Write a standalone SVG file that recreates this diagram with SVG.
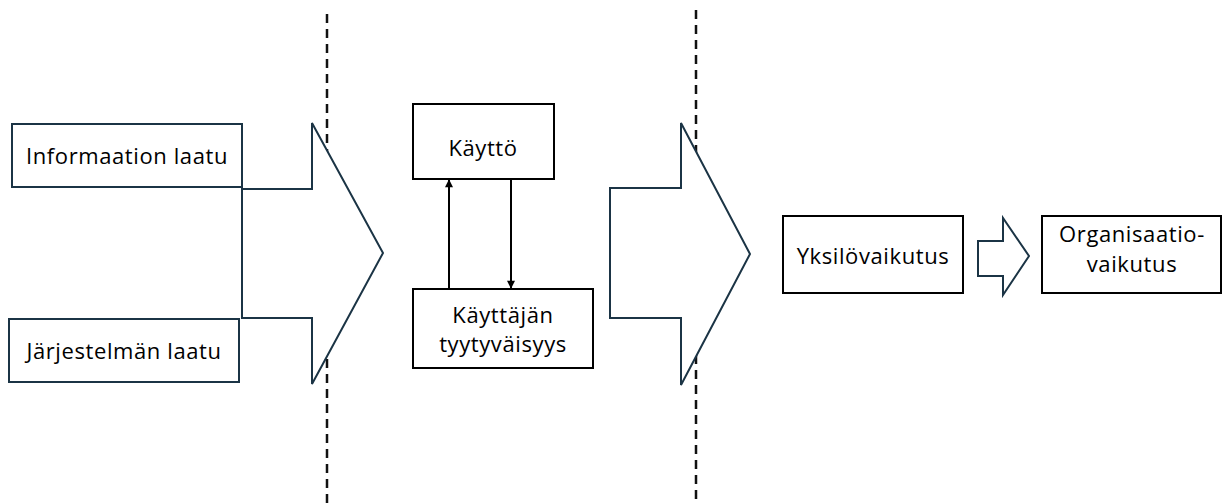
<svg xmlns="http://www.w3.org/2000/svg" width="1223" height="504" viewBox="0 0 1223 504">
<style>
.bg{fill:#ffffff}
.dash{stroke:#111;stroke-width:2.5;stroke-dasharray:9 6;fill:none}
.navy{fill:#fff;stroke:#1b3445;stroke-width:2}
.blk{fill:#fff;stroke:#000;stroke-width:2}
.t{font-family:"Open Sans","Liberation Sans",sans-serif;font-size:22px;fill:#000;text-anchor:middle;letter-spacing:0.6px}
.c{stroke:#000;stroke-width:2;fill:none;marker-end:url(#ah)}
</style>
<defs>
<marker id="ah" viewBox="0 0 10 10" refX="9" refY="5" markerWidth="9" markerHeight="8" markerUnits="userSpaceOnUse" orient="auto">
<path d="M0,0 L10,5 L0,10 Z" fill="#000"/>
</marker>
</defs>
<rect class="bg" x="0" y="0" width="1223" height="504"/>
<g id="dividers">
<line class="dash" x1="327" y1="14" x2="327" y2="504"/>
<line class="dash" x1="696" y1="10" x2="696" y2="504"/>
</g>
<g id="arrow1">
<path class="navy" d="M242,189 L312,189 L312,123 L383,253 L312,384 L312,318 L242,318 Z"/>
</g>
<g id="arrow2">
<path class="navy" d="M610,188 L681,188 L681,123 L750,254 L681,385 L681,318 L610,318 Z"/>
</g>
<g id="arrow3">
<path class="navy" d="M978,241 L1003,241 L1003,218 L1029,256 L1003,295 L1003,276 L978,276 Z"/>
</g>
<g id="informaation-laatu">
<rect class="navy" x="12" y="124" width="230" height="63"/>
<text class="t" x="127" y="164">Informaation laatu</text>
</g>
<g id="jarjestelman-laatu">
<rect class="navy" x="9" y="319" width="230" height="63"/>
<text class="t" x="124" y="359">Järjestelmän laatu</text>
</g>
<g id="kaytto">
<rect class="blk" x="413" y="104" width="141" height="75"/>
<text class="t" x="483" y="156">Käyttö</text>
</g>
<g id="kayttajan-tyytyvaisyys">
<rect class="blk" x="413" y="289" width="180" height="79"/>
<text class="t" x="503" y="323">Käyttäjän</text>
<text class="t" x="503" y="352">tyytyväisyys</text>
</g>
<g id="yksilovaikutus">
<rect class="blk" x="783" y="216" width="180" height="77"/>
<text class="t" x="873" y="264">Yksilövaikutus</text>
</g>
<g id="organisaatiovaikutus">
<rect class="blk" x="1042" y="216" width="179" height="77"/>
<text class="t" x="1132" y="242">Organisaatio-</text>
<text class="t" x="1132" y="272">vaikutus</text>
</g>
<g id="connectors">
<line class="c" x1="449" y1="289" x2="449" y2="180"/>
<line class="c" x1="511" y1="179" x2="511" y2="288"/>
</g>
</svg>
